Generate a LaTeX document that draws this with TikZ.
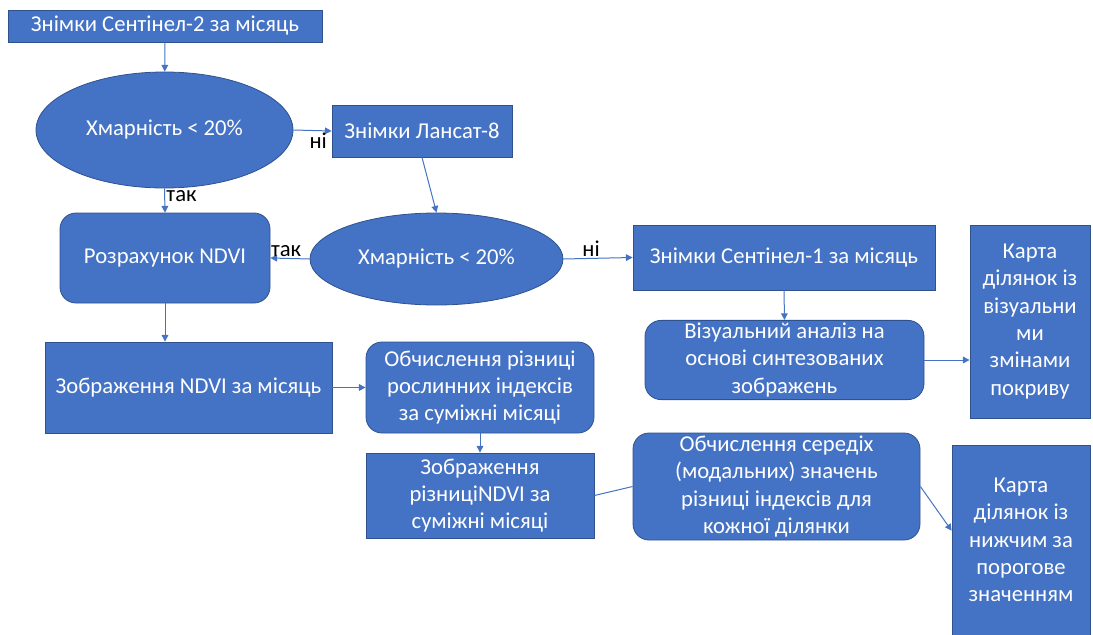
\documentclass[tikz,border=0pt]{standalone}
\usepackage{fontspec}
\setmainfont{Carlito}
\usetikzlibrary{shapes.geometric,arrows.meta}

\definecolor{boxblue}{RGB}{68,114,196}
\definecolor{boxedge}{RGB}{47,82,143}

\tikzset{
  stepbox/.style={draw=boxedge, line width=0.6pt, fill=boxblue, text=white, align=center, inner sep=2pt, font=\fontsize{17}{20.5}\selectfont},
  roundbox/.style={stepbox, rounded corners=12pt},
  decision/.style={stepbox, ellipse},
  link/.style={draw=boxblue, line width=0.75pt, -{Triangle[length=5pt,width=5pt]}},
  answer/.style={text=black, font=\fontsize{17}{18}\selectfont, inner sep=1pt}
}

\begin{document}
\begin{tikzpicture}[x=0.75pt,y=0.75pt,yscale=-1,xscale=1]
\useasboundingbox (0,0) rectangle (1093,635);

%Boxes: left column
\node [stepbox, minimum width=235.5pt, minimum height=24pt] (sentinel2) at (165,26) {Знімки Сентінел-2 за місяць};
\node [decision, minimum width=192.75pt, minimum height=87pt] (cloud1) at (164.5,130) {Хмарність < 20\%};
\node [stepbox, minimum width=135pt, minimum height=39pt] (landsat) at (422,131) {Знімки Лансат-8};
\node [roundbox, minimum width=157.5pt, minimum height=67.5pt] (ndvicalc) at (165,258) {Розрахунок NDVI};
\node [decision, minimum width=189.75pt, minimum height=69pt] (cloud2) at (436.5,259) {Хмарність < 20\%};
\node [stepbox, minimum width=215.25pt, minimum height=68.25pt] (ndviimg) at (188.5,387.5) {Зображення NDVI за місяць};

%Boxes: difference
\node [roundbox, minimum width=171pt, minimum height=68.25pt] (diffcalc) at (480,387.5) {Обчислення різниці\\рослинних індексів\\за суміжні місяці};
\node [stepbox, minimum width=171pt, minimum height=63.75pt] (diffimg) at (480,495.5) {Зображення\\різниціNDVI за\\суміжні місяці};
\node [roundbox, minimum width=215.25pt, minimum height=80.25pt] (modal) at (776.5,486.5) {Обчислення середіх\\(модальних) значень\\різниці індексів для\\кожної ділянки};

%Boxes: radar branch
\node [stepbox, minimum width=226.5pt, minimum height=48.75pt] (sentinel1) at (784,257.5) {Знімки Сентінел-1 за місяць};
\node [roundbox, minimum width=209.25pt, minimum height=57pt] (visual) at (784.5,360) {Візуальний аналіз на\\основі синтезованих\\зображень};
\node [stepbox, minimum width=90pt, minimum height=144.75pt] (mapvisual) at (1030,321.5) {Карта\\ділянок із\\візуальни\\ми\\змінами\\покриву};
\node [stepbox, minimum width=103.5pt, minimum height=142.5pt] (mapthresh) at (1021,540) {Карта\\ділянок із\\нижчим за\\порогове\\значенням};

%Connectors
\draw [link] (sentinel2) -- (cloud1);
\draw [link] (cloud1.east) -- (landsat.west) node [answer, pos=0.65, anchor=north] {ні};
\draw [link] (cloud1.south) -- (ndvicalc.north) node [answer, pos=0.3, anchor=west] {так};
\draw [link] (landsat.south) -- (cloud2.north);
\draw [link] (cloud2.west) -- (ndvicalc.east) node [answer, pos=0.6, anchor=south] {так};
\draw [link] (cloud2.east) -- (sentinel1.west) node [answer, pos=0.4, anchor=south] {ні};
\draw [link] (sentinel1.south) -- (visual.north);
\draw [link] (visual.east) -- (visual.east -| mapvisual.west);
\draw [link] (ndvicalc.south) -- (ndvicalc.south |- ndviimg.north);
\draw [link] (ndviimg.east) -- (diffcalc.west);
\draw [link] (diffcalc.south) -- (diffimg.north);
\draw [link, -] (diffimg.east) -- (modal.west);
\draw [link] (modal.east) -- ([yshift=-7pt]mapthresh.west);

\end{tikzpicture}
\end{document}
